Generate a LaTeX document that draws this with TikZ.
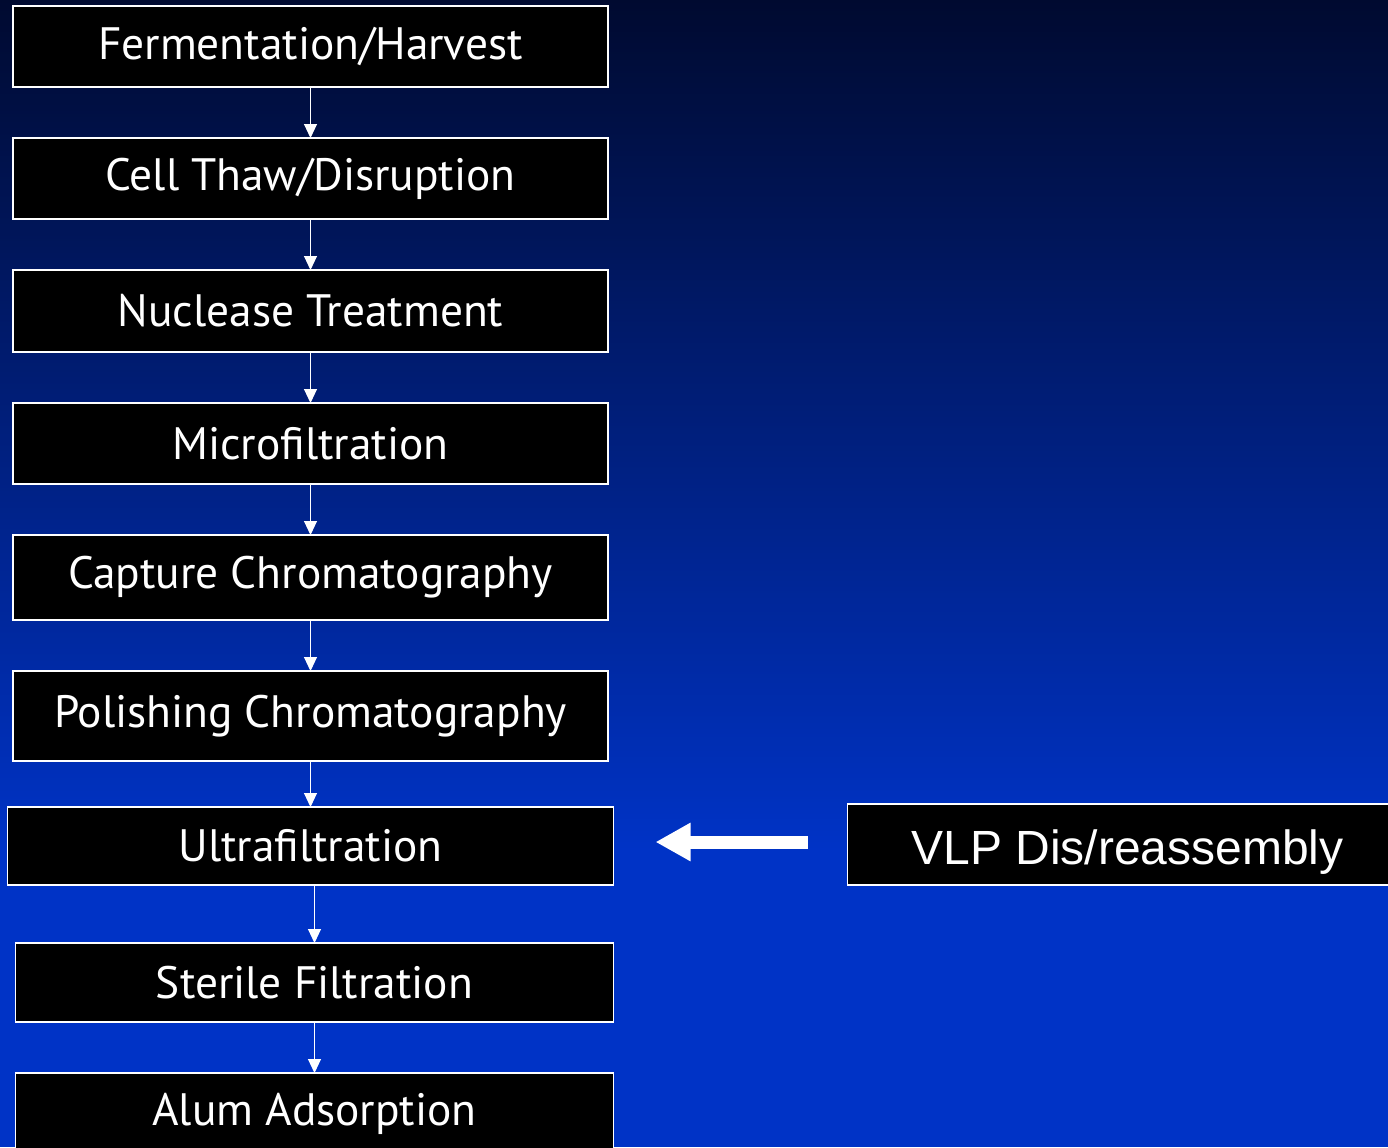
\documentclass[tikz,border=0pt]{standalone}
\usepackage{fontspec}
\usepackage{tikz}
\usetikzlibrary{arrows.meta}
\usetikzlibrary{positioning}
\newfontfamily\stagefont{PT Sans}
\newfontfamily\arialfont{Liberation Sans}
\definecolor{bgtop}{HTML}{000A30}
\definecolor{bgbottom}{HTML}{0033C6}
\tikzset{
    stage/.style={draw=white, fill=black, text=white, line width=0.6pt,
        minimum width=297.5pt, minimum height=40.5pt, inner sep=0pt, outer sep=0pt,
        font=\stagefont\fontsize{22.7}{27}\selectfont},
    flow/.style={draw=white, line width=0.5pt, -{Triangle[width=6.5pt,length=7pt]}},
    bigflow/.style={draw=white, line width=6.5pt, -{Triangle[width=18pt,length=17.5pt]}}
}

\begin{document}
\begin{tikzpicture}[x=0.5pt, y=-0.5pt, node distance=25.5pt]
    \useasboundingbox (0,0) rectangle (1388,1147);
    % background
    \shade[top color=bgtop, bottom color=bgbottom] (0,0) rectangle (1388,850);
    \fill[bgbottom] (0,849) rectangle (1388,1147);

    \node (ferm) [stage] at (310.5,46.5) {Fermentation/Harvest};
    \node (thaw) [stage, below=of ferm] {Cell Thaw/Disruption};
    \node (nucl) [stage, below=of thaw, minimum height=41pt] {Nuclease Treatment};
    \node (micro) [stage, below=of nucl] {Microfiltration};
    \node (capt) [stage, below=of micro, minimum height=42.5pt] {Capture Chromatography};
    \node (pol) [stage, below=of capt, minimum height=45pt] {Polishing Chromatography};
    \node (ultra) [stage, below=23pt of pol, minimum width=303pt, minimum height=39pt] {Ultrafiltration};
    \node (steril) [stage, below=29pt of ultra, xshift=2pt, minimum width=299pt, minimum height=39.5pt] {Sterile Filtration};
    \node (alum) [stage, below=of steril, minimum width=299pt] {Alum Adsorption};

    \node (vlp) [stage, right=117pt of ultra, yshift=0.75pt, minimum width=280pt,
        text height=22pt, text depth=2.5pt,
        font=\arialfont\fontsize{24}{28}\selectfont] {VLP Dis/reassembly};

    \draw[flow] (ferm) -- (thaw);
    \draw[flow] (thaw) -- (nucl);
    \draw[flow] (nucl) -- (micro);
    \draw[flow] (micro) -- (capt);
    \draw[flow] (capt) -- (pol);
    \draw[flow] (pol) -- (ultra);
    \draw[flow] (steril.north |- ultra.south) -- (steril);
    \draw[flow] (steril) -- (alum);

    \draw[bigflow, shorten <=20pt, shorten >=21pt] ([yshift=1.25pt]vlp.west) -- ([yshift=1.25pt]vlp.west -| ultra.east);
\end{tikzpicture}
\end{document}
